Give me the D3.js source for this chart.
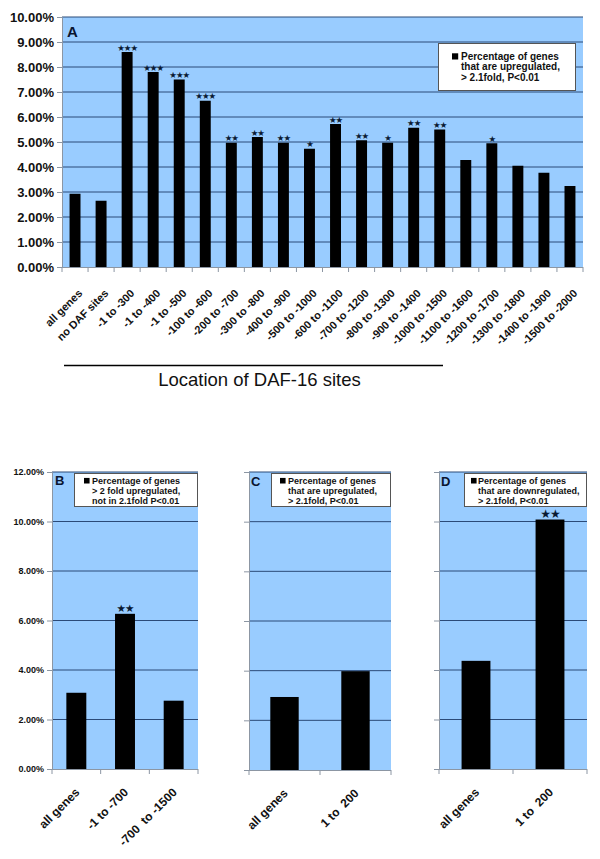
<!DOCTYPE html>
<html>
<head>
<meta charset="utf-8">
<script src="https://cdn.jsdelivr.net/npm/d3@7/dist/d3.min.js"></script>
<style>
  html, body { margin: 0; padding: 0; background: #ffffff; }
  svg { display: block; }
  text { font-family: "Liberation Sans", Arial, sans-serif; }
</style>
</head>
<body>
<script>
// ---------------- DATA ----------------
const catsA = ["all genes", "no DAF sites", "-1 to -300", "-1 to -400", "-1 to -500", "-100 to -600",
  "-200 to -700", "-300 to -800", "-400 to -900", "-500 to -1000", "-600 to -1100", "-700 to -1200",
  "-800 to -1300", "-900 to -1400", "-1000 to -1500", "-1100 to -1600", "-1200 to -1700",
  "-1300 to -1800", "-1400 to -1900", "-1500 to -2000"];
const valsA = [2.93, 2.65, 8.6, 7.8, 7.5, 6.65, 4.97, 5.2, 4.97, 4.73, 5.72, 5.07, 4.97, 5.57, 5.5,
  4.28, 4.95, 4.05, 3.77, 3.24];
const sigA = ["", "", "***", "***", "***", "***", "**", "**", "**", "*", "**", "**", "*", "**", "**",
  "", "*", "", "", ""];
const ticksA = [0, 1, 2, 3, 4, 5, 6, 7, 8, 9, 10];
const legendA = ["Percentage of genes", "that are upregulated,", "> 2.1fold, P<0.01"];

const catsB = ["all genes", "-1 to -700", "-700  to -1500"];
const valsB = [3.08, 6.27, 2.76];
const sigB = ["", "**", ""];
const legendB = ["Percentage of genes", "> 2 fold upregulated,", "not in 2.1fold P<0.01"];

const catsC = ["all genes", "1 to  200"];
const valsC = [2.94, 3.98];
const sigC = ["", ""];
const legendC = ["Percentage of genes", "that are upregulated,", "> 2.1fold, P<0.01"];

const catsD = ["all genes", "1 to  200"];
const valsD = [4.37, 10.08];
const sigD = ["", "**"];
const legendD = ["Percentage of genes", "that are downregulated,", "> 2.1fold, P<0.01"];

const ticksSmall = [0, 2, 4, 6, 8, 10, 12];
const xTitleA = "Location of DAF-16 sites";

// ---------------- STYLE ----------------
const BG = "#99ccff";
const GRID = "#2b4a78";
const AXIS = "#8c96a3";

const svg = d3.select("body").append("svg").attr("width", 600).attr("height", 859);

function panel(o) {
  const g = svg.append("g");
  const x = d3.scaleBand().domain(o.cats).range([o.x0, o.x1])
    .paddingInner(o.pad).paddingOuter(o.pad / 2);
  const y = d3.scaleLinear().domain([0, o.ymax]).range([o.y0, o.y1]);

  g.append("rect").attr("x", o.x0).attr("y", o.y1).attr("width", o.x1 - o.x0).attr("height", o.y0 - o.y1)
    .attr("fill", BG);

  // gridlines
  g.selectAll("line.grid").data(o.ticks.filter(t => t > 0)).join("line")
    .attr("x1", o.x0).attr("x2", o.x1).attr("y1", d => y(d)).attr("y2", d => y(d))
    .attr("stroke", GRID).attr("stroke-width", 1);

  // bars
  g.selectAll("rect.bar").data(o.vals).join("rect")
    .attr("x", (d, i) => x(o.cats[i])).attr("width", x.bandwidth())
    .attr("y", d => y(d)).attr("height", d => o.y0 - y(d)).attr("fill", "#000");

  // significance stars
  g.selectAll("text.sig").data(o.sig).join("text")
    .attr("x", (d, i) => x(o.cats[i]) + x.bandwidth() / 2)
    .attr("y", (d, i) => y(o.vals[i]) - 1.5)
    .attr("text-anchor", "middle")
    .style("font-family", "'DejaVu Sans', sans-serif")
    .style("font-size", o.starSize + "px")
    .style("letter-spacing", o.starSpacing + "px")
    .attr("fill", "#0a1a33")
    .text(d => d.replace(/\*/g, "\u2605"));

  // y axis
  const ya = d3.axisLeft(y).tickValues(o.ticks).tickSize(5).tickPadding(3)
    .tickFormat(o.yLabels ? (d => d.toFixed(2) + "%") : (() => ""));
  const yg = g.append("g").attr("transform", `translate(${o.x0},0)`).call(ya);
  yg.select(".domain").attr("stroke", AXIS);
  yg.selectAll(".tick line").attr("stroke", AXIS);
  yg.selectAll(".tick text").style("font-size", o.yFont + "px").style("font-weight", "bold")
    .attr("fill", "#111");

  // x axis
  const bounds = d3.range(o.cats.length + 1);
  const step = x.step();
  g.append("line").attr("x1", o.x0).attr("x2", o.x1).attr("y1", o.y0 + 0.5).attr("y2", o.y0 + 0.5)
    .attr("stroke", AXIS);
  g.selectAll("line.xt").data(bounds).join("line")
    .attr("x1", d => o.x0 + d * step).attr("x2", d => o.x0 + d * step)
    .attr("y1", o.y0).attr("y2", o.y0 + 5).attr("stroke", AXIS);

  g.selectAll("text.xl").data(o.cats).join("text")
    .attr("transform", d => `translate(${x(d) + x.bandwidth() / 2 + o.lx},${o.y0 + o.ly}) rotate(-45)`)
    .attr("text-anchor", "end")
    .style("font-size", o.xFont + "px").style("font-weight", "bold").attr("fill", "#111")
    .style("white-space", "pre")
    .text(d => d);

  // panel letter
  g.append("text").attr("x", o.letterX).attr("y", o.letterY)
    .style("font-size", o.letterSize + "px").style("font-weight", "bold").attr("fill", "#0a1530")
    .text(o.letter);

  // legend
  const L = o.legend;
  g.append("rect").attr("x", L.x).attr("y", L.y).attr("width", L.w).attr("height", L.h)
    .attr("fill", "#fff").attr("stroke", "#555").attr("stroke-width", 1);
  g.append("rect").attr("x", L.mx).attr("y", L.y + L.first - L.font * 0.62).attr("width", L.font * 0.62)
    .attr("height", L.font * 0.62).attr("fill", "#000");
  g.selectAll("text.lg").data(o.legendText).join("text")
    .attr("x", L.tx).attr("y", (d, i) => L.y + L.first + i * L.lh)
    .style("font-size", L.font + "px").style("font-weight", "bold").attr("fill", "#111")
    .style("white-space", "pre")
    .text(d => d);
}

panel({
  cats: catsA, vals: valsA, sig: sigA, ticks: ticksA, ymax: 10,
  x0: 62, x1: 583, y0: 267, y1: 17, pad: 0.58, starSize: 8.5, starSpacing: -1,
  yLabels: true, yFont: 13, xFont: 11, lx: 8, ly: 27,
  letter: "A", letterX: 67, letterY: 37, letterSize: 15,
  legendText: legendA,
  legend: { x: 438.5, y: 43.5, w: 137, h: 47, mx: 452, tx: 461, first: 16, lh: 10.5, font: 10 }
});

panel({
  cats: catsB, vals: valsB, sig: sigB, ticks: ticksSmall, ymax: 12,
  x0: 52, x1: 198, y0: 769, y1: 472, pad: 0.59, starSize: 10.5, starSpacing: -1,
  yLabels: true, yFont: 9, xFont: 12, lx: 4, ly: 24,
  letter: "B", letterX: 55, letterY: 485, letterSize: 13,
  legendText: legendB,
  legend: { x: 74.5, y: 473.5, w: 123, h: 33, mx: 84, tx: 92, first: 10, lh: 10.3, font: 9 }
});

panel({
  cats: catsC, vals: valsC, sig: sigC, ticks: ticksSmall, ymax: 12,
  x0: 249, x1: 391, y0: 770, y1: 472, pad: 0.6, starSize: 11, starSpacing: -1,
  yLabels: false, yFont: 9, xFont: 12, lx: 4, ly: 24,
  letter: "C", letterX: 251, letterY: 486, letterSize: 13,
  legendText: legendC,
  legend: { x: 271.5, y: 473.5, w: 119, h: 33, mx: 280, tx: 288, first: 10, lh: 10.3, font: 9 }
});

panel({
  cats: catsD, vals: valsD, sig: sigD, ticks: ticksSmall, ymax: 12,
  x0: 439, x1: 587, y0: 769, y1: 472, pad: 0.61, starSize: 12, starSpacing: -1,
  yLabels: false, yFont: 9, xFont: 12, lx: 4, ly: 24,
  letter: "D", letterX: 441, letterY: 486, letterSize: 13,
  legendText: legendD,
  legend: { x: 464.5, y: 473.5, w: 122, h: 33, mx: 471, tx: 478, first: 10, lh: 10.3, font: 9 }
});

// A axis title + rule
svg.append("line").attr("x1", 64).attr("x2", 443).attr("y1", 365.5).attr("y2", 365.5)
  .attr("stroke", "#000").attr("stroke-width", 1.6);
svg.append("text").attr("x", 259.5).attr("y", 386).attr("text-anchor", "middle")
  .style("font-size", "18.5px").attr("fill", "#111").text(xTitleA);
</script>
</body>
</html>
